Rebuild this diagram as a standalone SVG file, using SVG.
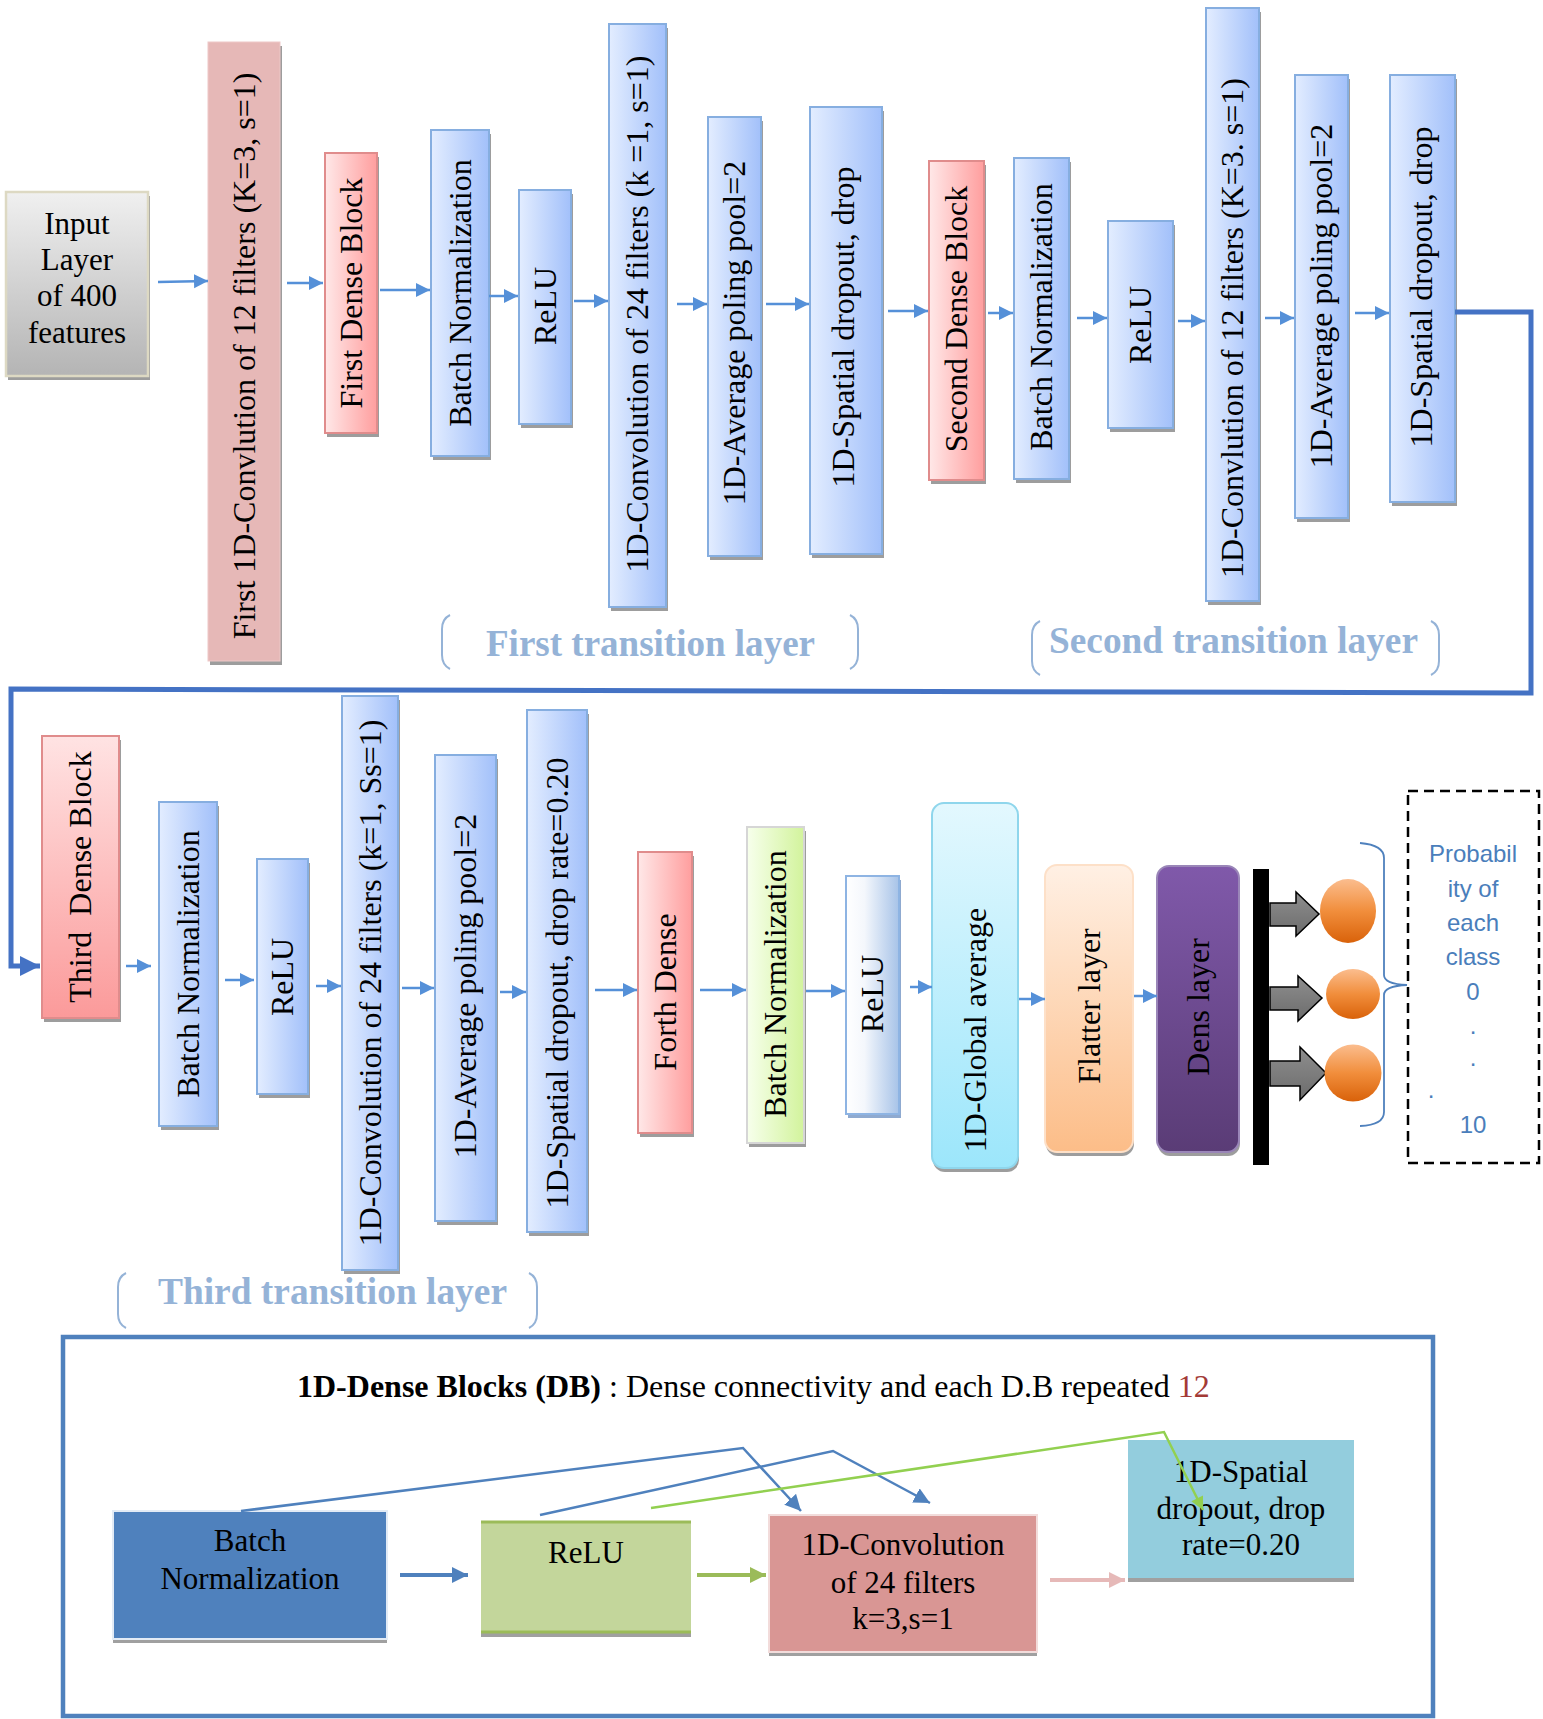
<svg xmlns="http://www.w3.org/2000/svg" width="1543" height="1719" viewBox="0 0 1543 1719">
<defs>
<linearGradient id="gBlue" x1="0" y1="0" x2="1" y2="0"><stop offset="0" stop-color="#e3edff"/><stop offset="1" stop-color="#a2c0fa"/></linearGradient>
<linearGradient id="gPink" x1="0" y1="0" x2="1" y2="0"><stop offset="0" stop-color="#ffe8e8"/><stop offset="1" stop-color="#ff9e9e"/></linearGradient>
<linearGradient id="gPinkV" x1="0" y1="0" x2="0" y2="1"><stop offset="0" stop-color="#ffe3e3"/><stop offset="1" stop-color="#fb9a9a"/></linearGradient>
<linearGradient id="gGray" x1="0" y1="0" x2="0" y2="1"><stop offset="0" stop-color="#f0f0f0"/><stop offset="1" stop-color="#b4b4b4"/></linearGradient>
<linearGradient id="gGreen" x1="0" y1="0" x2="1" y2="0"><stop offset="0" stop-color="#f7ffec"/><stop offset="1" stop-color="#d2f39c"/></linearGradient>
<linearGradient id="gWB" x1="0" y1="0" x2="1" y2="0"><stop offset="0" stop-color="#ffffff"/><stop offset="0.35" stop-color="#f4f7fc"/><stop offset="1" stop-color="#a7c3e8"/></linearGradient>
<linearGradient id="gCyan" x1="0" y1="0" x2="0" y2="1"><stop offset="0" stop-color="#e3f8fe"/><stop offset="1" stop-color="#9ce6fb"/></linearGradient>
<linearGradient id="gPeach" x1="0" y1="0" x2="0" y2="1"><stop offset="0" stop-color="#fff0e4"/><stop offset="1" stop-color="#fcbd88"/></linearGradient>
<linearGradient id="gPurple" x1="0" y1="0" x2="0" y2="1"><stop offset="0" stop-color="#8059aa"/><stop offset="1" stop-color="#5a3c76"/></linearGradient>
<linearGradient id="gOrange" x1="0" y1="0" x2="0" y2="1"><stop offset="0" stop-color="#fbbd8e"/><stop offset="0.5" stop-color="#f18e3c"/><stop offset="1" stop-color="#d9620a"/></linearGradient>
<linearGradient id="gBlk" x1="0" y1="0" x2="0" y2="1"><stop offset="0" stop-color="#8e8e8e"/><stop offset="1" stop-color="#6c6c6c"/></linearGradient>
<marker id="ah" viewBox="0 0 10 10" refX="10" refY="5" markerWidth="14" markerHeight="15" markerUnits="userSpaceOnUse" orient="auto"><path d="M0,0 L10,5 L0,10 z" fill="#5590d8"/></marker>
<marker id="ahBig" viewBox="0 0 10 10" refX="10" refY="5" markerWidth="22" markerHeight="20" markerUnits="userSpaceOnUse" orient="auto"><path d="M0,0 L10,5 L0,10 z" fill="#4472c4"/></marker>
<marker id="ahB" viewBox="0 0 10 10" refX="10" refY="5" markerWidth="16" markerHeight="16" markerUnits="userSpaceOnUse" orient="auto"><path d="M0,0 L10,5 L0,10 z" fill="#4f81bd"/></marker>
<marker id="ahG" viewBox="0 0 10 10" refX="10" refY="5" markerWidth="16" markerHeight="16" markerUnits="userSpaceOnUse" orient="auto"><path d="M0,0 L10,5 L0,10 z" fill="#9bbb59"/></marker>
<marker id="ahLG" viewBox="0 0 10 10" refX="10" refY="5" markerWidth="14" markerHeight="13" markerUnits="userSpaceOnUse" orient="auto"><path d="M0,0 L10,5 L0,10 z" fill="#92d050"/></marker>
<marker id="ahP" viewBox="0 0 10 10" refX="10" refY="5" markerWidth="16" markerHeight="18" markerUnits="userSpaceOnUse" orient="auto"><path d="M0,0 L10,5 L0,10 z" fill="#e6b9b8"/></marker>
</defs>
<style>
.vt{font-family:"Liberation Serif","Times New Roman",serif;font-size:32px;text-anchor:middle;fill:#000}
.ht{font-family:"Liberation Serif","Times New Roman",serif;font-size:31px;text-anchor:middle;fill:#000}
.tt{font-family:"Liberation Serif","Times New Roman",serif;font-size:32px;fill:#000}
.red{fill:#a33a36}
.sh{fill:#9d9d9d}
.blue{fill:url(#gBlue);stroke:#86aee0;stroke-width:2}
.pink{fill:url(#gPink);stroke:#e08c8c;stroke-width:2}
.tl{font-family:"Liberation Serif","Times New Roman",serif;font-weight:bold;font-size:37px;fill:#95b3d7}
.br{fill:none;stroke:#95b3d7;stroke-width:2}
.ar{fill:none;stroke:#5590d8;stroke-width:2.5;marker-end:url(#ah)}
.pt{font-family:"Liberation Sans",Arial,sans-serif;font-size:24px;text-anchor:middle;fill:#4a7ebb}
</style>
<rect width="1543" height="1719" fill="#ffffff"/>

<!-- top row -->
<g id="input"><rect class="sh" x="8" y="196" width="142" height="184"/><rect x="6" y="192" width="142" height="184" fill="url(#gGray)" stroke="#ddd9c3" stroke-width="2.5"/>
<text class="ht" font-size="31" x="77"><tspan x="77" y="234">Input</tspan><tspan x="77" y="270">Layer</tspan><tspan x="77" y="306">of 400</tspan><tspan x="77" y="343">features</tspan></text></g>
<g id="conv1"><rect class="sh" x="210" y="46" width="72" height="619"/><rect x="208" y="42" width="72" height="619" fill="#e6b8b7" stroke="#edc8c7" stroke-width="1"/><text class="vt" transform="translate(244,356) rotate(-90)" dy="0.35em">First 1D-Convlution of 12 filters (K=3, s=1)</text></g>
<g id="fdb"><rect class="sh" x="327" y="157" width="52" height="280"/><rect class="pink" x="325" y="153" width="52" height="280"/><text class="vt" transform="translate(351,293) rotate(-90)" dy="0.35em">First Dense Block</text></g>
<g id="bn1"><rect class="sh" x="433" y="134" width="58" height="326"/><rect class="blue" x="431" y="130" width="58" height="326" stroke="#4f81bd"/><text class="vt" transform="translate(460,293) rotate(-90)" dy="0.35em">Batch Normalization</text></g>
<g id="relu1"><rect class="sh" x="521" y="194" width="52" height="234"/><rect class="blue" x="519" y="190" width="52" height="234"/><text class="vt" transform="translate(545,306) rotate(-90)" dy="0.35em">ReLU</text></g>
<g id="conv24a"><rect class="sh" x="611" y="28" width="57" height="583"/><rect class="blue" x="609" y="24" width="57" height="583"/><text class="vt" transform="translate(637,314) rotate(-90)" dy="0.35em">1D-Convolution of 24 filters (k =1, s=1)</text></g>
<g id="avg1"><rect class="sh" x="710" y="121" width="53" height="439"/><rect class="blue" x="708" y="117" width="53" height="439"/><text class="vt" transform="translate(734,333) rotate(-90)" dy="0.35em">1D-Average poling pool=2</text></g>
<g id="sp1"><rect class="sh" x="812" y="111" width="72" height="447"/><rect class="blue" x="810" y="107" width="72" height="447"/><text class="vt" transform="translate(843,327) rotate(-90)" dy="0.35em">1D-Spatial dropout, drop</text></g>
<g id="sdb"><rect class="sh" x="931" y="165" width="55" height="319"/><rect class="pink" x="929" y="161" width="55" height="319"/><text class="vt" transform="translate(956,319) rotate(-90)" dy="0.35em">Second Dense Block</text></g>
<g id="bn2"><rect class="sh" x="1016" y="162" width="55" height="321"/><rect class="blue" x="1014" y="158" width="55" height="321"/><text class="vt" transform="translate(1041,317) rotate(-90)" dy="0.35em">Batch Normalization</text></g>
<g id="relu2"><rect class="sh" x="1110" y="225" width="65" height="207"/><rect class="blue" x="1108" y="221" width="65" height="207"/><text class="vt" transform="translate(1140,325) rotate(-90)" dy="0.35em">ReLU</text></g>
<g id="conv12"><rect class="sh" x="1208" y="12" width="53" height="593"/><rect class="blue" x="1206" y="8" width="53" height="593"/><text class="vt" transform="translate(1232,328) rotate(-90)" dy="0.35em">1D-Convlution of 12 filters (K=3. s=1)</text></g>
<g id="avg2"><rect class="sh" x="1297" y="79" width="53" height="443"/><rect class="blue" x="1295" y="75" width="53" height="443"/><text class="vt" transform="translate(1321,296) rotate(-90)" dy="0.35em">1D-Average poling pool=2</text></g>
<g id="sp2"><rect class="sh" x="1392" y="79" width="65" height="427"/><rect class="blue" x="1390" y="75" width="65" height="427"/><text class="vt" transform="translate(1421,287) rotate(-90)" dy="0.35em">1D-Spatial dropout, drop</text></g>

<g id="label1"><path class="br" d="M450,615 Q442,619 442,629 L442,655 Q442,665 450,669"/><path class="br" d="M850,615 Q858,619 858,629 L858,655 Q858,665 850,669"/><text class="tl" x="486" y="656" textLength="329" lengthAdjust="spacingAndGlyphs">First transition layer</text></g>
<g id="label2"><path class="br" d="M1040,621 Q1032,625 1032,635 L1032,661 Q1032,671 1040,675"/><path class="br" d="M1431,621 Q1439,625 1439,635 L1439,661 Q1439,671 1431,675"/><text class="tl" x="1049" y="653" textLength="369" lengthAdjust="spacingAndGlyphs">Second transition layer</text></g>

<!-- bottom row -->
<g id="tdb"><rect class="sh" x="44" y="740" width="77" height="282"/><rect x="42" y="736" width="77" height="282" fill="url(#gPinkV)" stroke="#e08c8c" stroke-width="2"/><text class="vt" transform="translate(80,877) rotate(-90)" dy="0.35em" xml:space="preserve">Third  Dense Block</text></g>
<g id="bn3"><rect class="sh" x="161" y="806" width="58" height="324"/><rect class="blue" x="159" y="802" width="58" height="324"/><text class="vt" transform="translate(188,964) rotate(-90)" dy="0.35em">Batch Normalization</text></g>
<g id="relu3"><rect class="sh" x="259" y="863" width="51" height="235"/><rect class="blue" x="257" y="859" width="51" height="235"/><text class="vt" transform="translate(282,977) rotate(-90)" dy="0.35em">ReLU</text></g>
<g id="conv24b"><rect class="sh" x="344" y="700" width="56" height="574"/><rect class="blue" x="342" y="696" width="56" height="574"/><text class="vt" transform="translate(370,983) rotate(-90)" dy="0.35em">1D-Convolution of 24 filters (k=1, Ss=1)</text></g>
<g id="avg3"><rect class="sh" x="437" y="759" width="61" height="466"/><rect class="blue" x="435" y="755" width="61" height="466"/><text class="vt" transform="translate(465,986) rotate(-90)" dy="0.35em">1D-Average poling pool=2</text></g>
<g id="sp3"><rect class="sh" x="529" y="714" width="60" height="522"/><rect class="blue" x="527" y="710" width="60" height="522"/><text class="vt" transform="translate(557,983) rotate(-90)" dy="0.35em">1D-Spatial dropout, drop rate=0.20</text></g>
<g id="fd"><rect class="sh" x="640" y="856" width="54" height="281"/><rect class="pink" x="638" y="852" width="54" height="281"/><text class="vt" transform="translate(665,992) rotate(-90)" dy="0.35em">Forth Dense</text></g>
<g id="bn4"><rect class="sh" x="749" y="831" width="57" height="316"/><rect x="747" y="827" width="57" height="316" fill="url(#gGreen)" stroke="#d6d6d6" stroke-width="2"/><text class="vt" transform="translate(775,984) rotate(-90)" dy="0.35em">Batch Normalization</text></g>
<g id="relu4"><rect x="848" y="880" width="53" height="238" fill="#8faad0"/><rect x="846" y="876" width="53" height="238" fill="url(#gWB)" stroke="#8eb4e3" stroke-width="2"/><text class="vt" transform="translate(872,994) rotate(-90)" dy="0.35em">ReLU</text></g>
<g id="global"><rect class="sh" x="933" y="807" width="86" height="365" rx="12"/><rect x="932" y="803" width="86" height="365" rx="12" fill="url(#gCyan)" stroke="#8fd6ec" stroke-width="2"/><text class="vt" transform="translate(975,1030) rotate(-90)" dy="0.35em">1D-Global average</text></g>
<g id="flatter"><rect class="sh" x="1046" y="869" width="88" height="287" rx="12"/><rect x="1045" y="865" width="88" height="287" rx="12" fill="url(#gPeach)" stroke="#fde0c8" stroke-width="2"/><text class="vt" transform="translate(1089,1006) rotate(-90)" dy="0.35em">Flatter layer</text></g>
<g id="dens"><rect class="sh" x="1158" y="870" width="82" height="286" rx="12"/><rect x="1157" y="866" width="82" height="286" rx="12" fill="url(#gPurple)" stroke="#9a86b8" stroke-width="2"/><text class="vt" transform="translate(1198,1007) rotate(-90)" dy="0.35em">Dens layer</text></g>
<g id="bar"><rect x="1253" y="869" width="16" height="296" fill="#000"/></g>
<g id="outArrows" fill="url(#gBlk)" stroke="#000" stroke-width="1.5">
<path d="M1270,903 L1296,903 L1296,892 L1319,914 L1296,936 L1296,926 L1270,926 z"/>
<path d="M1270,987 L1298,987 L1298,976 L1322,998 L1298,1021 L1298,1010 L1270,1010 z"/>
<path d="M1270,1061 L1300,1061 L1300,1047 L1326,1073 L1300,1100 L1300,1086 L1270,1086 z"/>
</g>
<g id="outputs">
<ellipse cx="1348" cy="911" rx="28" ry="32" fill="url(#gOrange)"/>
<ellipse cx="1353" cy="994" rx="27" ry="25" fill="url(#gOrange)"/>
<ellipse cx="1353" cy="1073" rx="28.5" ry="28.5" fill="url(#gOrange)"/>
</g>
<g id="brace"><path d="M1360,843 Q1384,845 1384,858 L1384,975 Q1384,984 1407,985 Q1384,986 1384,995 L1384,1112 Q1384,1125 1360,1126" fill="none" stroke="#4f81bd" stroke-width="1.8"/></g>
<g id="probBox"><rect x="1408" y="791" width="131" height="372" fill="none" stroke="#000" stroke-width="2.5" stroke-dasharray="10,6"/>
<text class="pt" x="1473" y="862">Probabil</text><text class="pt" x="1473" y="897">ity of</text><text class="pt" x="1473" y="931">each</text><text class="pt" x="1473" y="965">class</text><text class="pt" x="1473" y="1000">0</text><text class="pt" x="1473" y="1034">.</text><text class="pt" x="1473" y="1066">.</text><text class="pt" x="1431" y="1098">.</text><text class="pt" x="1473" y="1133">10</text></g>

<g id="label3"><path class="br" d="M126,1273 Q118,1277 118,1287 L118,1314 Q118,1324 126,1328"/><path class="br" d="M529,1273 Q537,1277 537,1287 L537,1314 Q537,1324 529,1328"/><text class="tl" x="158" y="1304" textLength="349" lengthAdjust="spacingAndGlyphs">Third transition layer</text></g>

<!-- dense block legend -->
<g id="legend"><rect x="63" y="1337" width="1370" height="379" fill="none" stroke="#4f81bd" stroke-width="4.5"/>
<text class="tt" x="297" y="1397"><tspan font-weight="bold">1D-Dense Blocks (DB)</tspan> : Dense connectivity and each D.B repeated <tspan class="red">12</tspan></text></g>
<g id="lbn"><rect x="113" y="1515" width="274" height="128" fill="#a0a0a0"/><rect x="113" y="1511" width="274" height="128" fill="#4f81bd" stroke="#e3ebf5" stroke-width="2"/><text class="ht" font-size="30"><tspan x="250" y="1551">Batch</tspan><tspan x="250" y="1589">Normalization</tspan></text></g>
<g id="lrelu"><rect x="481" y="1525" width="210" height="112" fill="#a0a0a0"/><rect x="481" y="1521" width="210" height="112" fill="#c3d69b"/><line x1="481" y1="1522" x2="691" y2="1522" stroke="#9bbb59" stroke-width="3"/><line x1="481" y1="1632" x2="691" y2="1632" stroke="#9bbb59" stroke-width="3"/><text class="ht" font-size="30" x="586" y="1563">ReLU</text></g>
<g id="lconv"><rect x="769" y="1519" width="268" height="137" fill="#a0a0a0"/><rect x="769" y="1515" width="268" height="137" fill="#d99694" stroke="#f2dcdb" stroke-width="2"/><text class="ht" font-size="30"><tspan x="903" y="1555">1D-Convolution</tspan><tspan x="903" y="1593">of 24 filters</tspan><tspan x="903" y="1629">k=3,s=1</tspan></text></g>
<g id="lsp"><rect x="1128" y="1444" width="226" height="138" fill="#a0a0a0"/><rect x="1128" y="1440" width="226" height="138" fill="#93cddd"/><text class="ht" font-size="30"><tspan x="1241" y="1482">1D-Spatial</tspan><tspan x="1241" y="1519">dropout, drop</tspan><tspan x="1241" y="1555">rate=0.20</tspan></text></g>

<g id="connectors">
<path class="ar" d="M158,282 L208,281"/>
<path class="ar" d="M287,283 L323,283"/>
<path class="ar" d="M380,290 L430,290"/>
<path class="ar" d="M489,296 L518,296"/>
<path class="ar" d="M574,301 L608,301"/>
<path class="ar" d="M677,304 L707,304"/>
<path class="ar" d="M766,304 L809,304"/>
<path class="ar" d="M888,311 L928,311"/>
<path class="ar" d="M988,313 L1013,313"/>
<path class="ar" d="M1077,318 L1107,318"/>
<path class="ar" d="M1178,321 L1205,321"/>
<path class="ar" d="M1265,318 L1294,318"/>
<path class="ar" d="M1355,313 L1389,313"/>
<path d="M1455,312 L1531,312 L1531,693 L11,689 L11,966 L40,966" fill="none" stroke="#4472c4" stroke-width="5" marker-end="url(#ahBig)"/>
<path class="ar" d="M126,966 L151,966"/>
<path class="ar" d="M225,980 L254,980"/>
<path class="ar" d="M316,986 L341,986"/>
<path class="ar" d="M402,988 L434,988"/>
<path class="ar" d="M500,992 L526,992"/>
<path class="ar" d="M595,990 L637,990"/>
<path class="ar" d="M700,990 L746,990"/>
<path class="ar" d="M806,991 L845,991"/>
<path class="ar" d="M910,987 L932,987"/>
<path class="ar" d="M1019,999 L1045,999"/>
<path class="ar" d="M1134,996 L1157,996"/>
<path d="M400,1575 L468,1575" fill="none" stroke="#4f81bd" stroke-width="4" marker-end="url(#ahB)"/>
<path d="M697,1575 L766,1575" fill="none" stroke="#9bbb59" stroke-width="4" marker-end="url(#ahG)"/>
<path d="M1050,1580 L1125,1580" fill="none" stroke="#e6b9b8" stroke-width="4" marker-end="url(#ahP)"/>
<path d="M241,1511 L743,1448 L801,1511" fill="none" stroke="#4f81bd" stroke-width="2.5" marker-end="url(#ahB)"/>
<path d="M540,1515 L833,1451 L930,1503" fill="none" stroke="#4f81bd" stroke-width="2.5" marker-end="url(#ahB)"/>
<path d="M651,1508 L1164,1432 L1203,1510" fill="none" stroke="#92d050" stroke-width="2.5" marker-end="url(#ahLG)"/>
</g>
</svg>
